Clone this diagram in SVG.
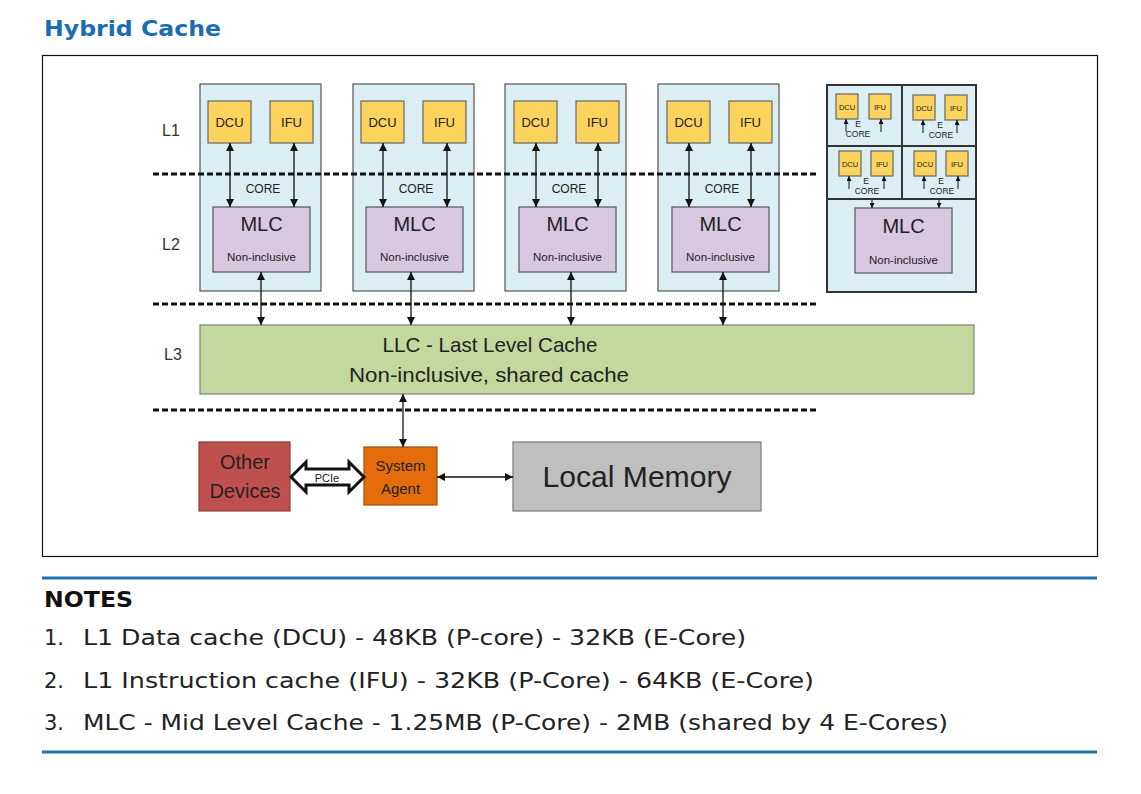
<svg xmlns="http://www.w3.org/2000/svg" width="1141" height="794" viewBox="0 0 1141 794">
<style>
.t{font-family:"Liberation Sans",Arial,sans-serif;fill:#222}
.v{font-family:"DejaVu Sans",Verdana,sans-serif}
.pc{fill:#dbeef4;stroke:#555;stroke-width:1.2}
.ec{fill:#dbeef4;stroke:#333;stroke-width:2}
.l1{fill:#fcd35c;stroke:#666;stroke-width:1.2}
.mlc{fill:#d8c8df;stroke:#555;stroke-width:1.2}
.dash{stroke:#111;stroke-width:3;stroke-dasharray:6 3;fill:none}
.ar{stroke:#111;stroke-width:1.3;fill:none;marker-start:url(#ah);marker-end:url(#ah)}
.sa{stroke:#111;stroke-width:1;fill:none;marker-end:url(#sh)}
.lbl{font-size:16px;fill:#333}
</style>
<defs>
<marker id="ah" viewBox="0 0 10 10" refX="10" refY="5" markerWidth="8" markerHeight="8" markerUnits="userSpaceOnUse" orient="auto-start-reverse"><path d="M0,0 L10,5 L0,10 z" fill="#111"/></marker>
<marker id="sh" viewBox="0 0 10 10" refX="10" refY="5" markerWidth="5" markerHeight="5" markerUnits="userSpaceOnUse" orient="auto"><path d="M0,0 L10,5 L0,10 z" fill="#111"/></marker>
</defs>
<rect width="1141" height="794" fill="#fff"/>
<text class="v" x="44" y="36" font-size="22" font-weight="bold" fill="#1b6db2" textLength="177" lengthAdjust="spacingAndGlyphs">Hybrid Cache</text>
<rect x="42.5" y="55.5" width="1055" height="501" fill="none" stroke="#111" stroke-width="1.2"/>

<g id="pcore1">
<rect class="pc" x="200" y="84" width="121" height="207"/>
<rect class="l1" x="208" y="101" width="43" height="42"/><text class="t" x="229.5" y="127" font-size="13" text-anchor="middle">DCU</text>
<rect class="l1" x="270" y="101" width="43" height="42"/><text class="t" x="291.5" y="127" font-size="13" text-anchor="middle">IFU</text>
<text class="t" x="263" y="193" font-size="12" text-anchor="middle" fill="#333">CORE</text>
<rect class="mlc" x="213" y="207" width="97" height="65"/>
<text class="t" x="261.5" y="231" font-size="20" text-anchor="middle">MLC</text>
<text class="t" x="261.5" y="261" font-size="11.5" text-anchor="middle">Non-inclusive</text>
</g>
<g id="pcore2">
<rect class="pc" x="353" y="84" width="121" height="207"/>
<rect class="l1" x="361" y="101" width="43" height="42"/><text class="t" x="382.5" y="127" font-size="13" text-anchor="middle">DCU</text>
<rect class="l1" x="423" y="101" width="43" height="42"/><text class="t" x="444.5" y="127" font-size="13" text-anchor="middle">IFU</text>
<text class="t" x="416" y="193" font-size="12" text-anchor="middle" fill="#333">CORE</text>
<rect class="mlc" x="366" y="207" width="97" height="65"/>
<text class="t" x="414.5" y="231" font-size="20" text-anchor="middle">MLC</text>
<text class="t" x="414.5" y="261" font-size="11.5" text-anchor="middle">Non-inclusive</text>
</g>
<g id="pcore3">
<rect class="pc" x="505" y="84" width="121" height="207"/>
<rect class="l1" x="514" y="101" width="43" height="42"/><text class="t" x="535.5" y="127" font-size="13" text-anchor="middle">DCU</text>
<rect class="l1" x="576" y="101" width="43" height="42"/><text class="t" x="597.5" y="127" font-size="13" text-anchor="middle">IFU</text>
<text class="t" x="569" y="193" font-size="12" text-anchor="middle" fill="#333">CORE</text>
<rect class="mlc" x="519" y="207" width="97" height="65"/>
<text class="t" x="567.5" y="231" font-size="20" text-anchor="middle">MLC</text>
<text class="t" x="567.5" y="261" font-size="11.5" text-anchor="middle">Non-inclusive</text>
</g>
<g id="pcore4">
<rect class="pc" x="658" y="84" width="121" height="207"/>
<rect class="l1" x="667" y="101" width="43" height="42"/><text class="t" x="688.5" y="127" font-size="13" text-anchor="middle">DCU</text>
<rect class="l1" x="729" y="101" width="43" height="42"/><text class="t" x="750.5" y="127" font-size="13" text-anchor="middle">IFU</text>
<text class="t" x="722" y="193" font-size="12" text-anchor="middle" fill="#333">CORE</text>
<rect class="mlc" x="672" y="207" width="97" height="65"/>
<text class="t" x="720.5" y="231" font-size="20" text-anchor="middle">MLC</text>
<text class="t" x="720.5" y="261" font-size="11.5" text-anchor="middle">Non-inclusive</text>
</g>

<g id="levels">
<text class="t lbl" x="162" y="136">L1</text>
<text class="t lbl" x="162" y="250">L2</text>
<text class="t lbl" x="164" y="360">L3</text>
<line class="dash" x1="153" y1="174" x2="817" y2="174"/>
<line class="dash" x1="153" y1="304" x2="817" y2="304"/>
<line class="dash" x1="153" y1="410" x2="817" y2="410"/>
</g>

<g id="ecluster">
<rect class="ec" x="827" y="85" width="149" height="207"/>
<line x1="902" y1="85" x2="902" y2="199" stroke="#333" stroke-width="2"/>
<line x1="827" y1="146" x2="976" y2="146" stroke="#333" stroke-width="2"/>
<line x1="827" y1="199" x2="976" y2="199" stroke="#333" stroke-width="2"/>
<g id="ecore1">
<rect class="l1" x="836" y="94" width="22" height="25"/><text class="t" x="847" y="110" font-size="7.5" text-anchor="middle">DCU</text>
<rect class="l1" x="869" y="94" width="22" height="25"/><text class="t" x="880" y="110" font-size="7.5" text-anchor="middle">IFU</text>
<text class="t" x="858" y="127" font-size="8.5" text-anchor="middle" fill="#333">E</text>
<text class="t" x="858" y="137" font-size="8.5" text-anchor="middle" fill="#333">CORE</text>
</g>
<g id="ecore2">
<rect class="l1" x="913" y="95" width="22" height="25"/><text class="t" x="924" y="111" font-size="7.5" text-anchor="middle">DCU</text>
<rect class="l1" x="945" y="95" width="22" height="25"/><text class="t" x="956" y="111" font-size="7.5" text-anchor="middle">IFU</text>
<text class="t" x="940" y="128" font-size="8.5" text-anchor="middle" fill="#333">E</text>
<text class="t" x="941" y="138" font-size="8.5" text-anchor="middle" fill="#333">CORE</text>
</g>
<g id="ecore3">
<rect class="l1" x="839" y="151" width="22" height="25"/><text class="t" x="850" y="167" font-size="7.5" text-anchor="middle">DCU</text>
<rect class="l1" x="871" y="151" width="22" height="25"/><text class="t" x="882" y="167" font-size="7.5" text-anchor="middle">IFU</text>
<text class="t" x="866" y="184" font-size="8.5" text-anchor="middle" fill="#333">E</text>
<text class="t" x="867" y="194" font-size="8.5" text-anchor="middle" fill="#333">CORE</text>
</g>
<g id="ecore4">
<rect class="l1" x="914" y="151" width="22" height="25"/><text class="t" x="925" y="167" font-size="7.5" text-anchor="middle">DCU</text>
<rect class="l1" x="946" y="151" width="22" height="25"/><text class="t" x="957" y="167" font-size="7.5" text-anchor="middle">IFU</text>
<text class="t" x="941" y="184" font-size="8.5" text-anchor="middle" fill="#333">E</text>
<text class="t" x="942" y="194" font-size="8.5" text-anchor="middle" fill="#333">CORE</text>
</g>
<g id="emlc">
<rect class="mlc" x="855" y="208" width="97" height="65"/>
<text class="t" x="903.5" y="233" font-size="20" text-anchor="middle">MLC</text>
<text class="t" x="903.5" y="264" font-size="11.5" text-anchor="middle">Non-inclusive</text>
</g>
</g>

<g id="llc">
<rect x="200" y="325" width="774" height="69" fill="#c4d79c" stroke="#7f7f7f" stroke-width="1.2"/>
<text class="t" x="490" y="352" font-size="21" text-anchor="middle" textLength="215" lengthAdjust="spacingAndGlyphs">LLC - Last Level Cache</text>
<text class="t" x="489" y="382" font-size="21" text-anchor="middle" textLength="280" lengthAdjust="spacingAndGlyphs">Non-inclusive, shared cache</text>
</g>

<g id="other">
<rect x="199" y="442" width="91" height="69" fill="#c0504d" stroke="#8a3a37" stroke-width="1.2"/>
<text class="t" x="245" y="469" font-size="20" text-anchor="middle" fill="#2a1414">Other</text>
<text class="t" x="245" y="498" font-size="20" text-anchor="middle" fill="#2a1414">Devices</text>
</g>
<g id="sysagent">
<rect x="364" y="447" width="73" height="58" fill="#e46c0a" stroke="#a34d08" stroke-width="1.2"/>
<text class="t" x="400.5" y="471" font-size="15" text-anchor="middle" fill="#3a1c04">System</text>
<text class="t" x="400.5" y="494" font-size="15" text-anchor="middle" fill="#3a1c04">Agent</text>
</g>
<g id="localmem">
<rect x="513" y="442" width="248" height="69" fill="#bfbfbf" stroke="#7a7a7a" stroke-width="1.2"/>
<text class="t" x="637" y="487" font-size="29" text-anchor="middle" textLength="189" lengthAdjust="spacingAndGlyphs">Local Memory</text>
</g>

<g id="connectors">
<line class="ar" x1="230" y1="143" x2="230" y2="207"/>
<line class="ar" x1="294" y1="143" x2="294" y2="207"/>
<line class="ar" x1="383" y1="143" x2="383" y2="207"/>
<line class="ar" x1="447" y1="143" x2="447" y2="207"/>
<line class="ar" x1="536" y1="143" x2="536" y2="207"/>
<line class="ar" x1="598" y1="143" x2="598" y2="207"/>
<line class="ar" x1="689" y1="143" x2="689" y2="207"/>
<line class="ar" x1="751" y1="143" x2="751" y2="207"/>
<line class="ar" x1="261" y1="272" x2="261" y2="325"/>
<line class="ar" x1="411" y1="272" x2="411" y2="325"/>
<line class="ar" x1="571" y1="272" x2="571" y2="325"/>
<line class="ar" x1="723" y1="272" x2="723" y2="325"/>
<line class="ar" x1="403" y1="394" x2="403" y2="447"/>
<line class="ar" x1="437" y1="477" x2="513" y2="477"/>
<line class="sa" x1="846" y1="132" x2="846" y2="119"/>
<line class="sa" x1="881" y1="132" x2="881" y2="119"/>
<line class="sa" x1="923" y1="133" x2="923" y2="120"/>
<line class="sa" x1="957" y1="133" x2="957" y2="120"/>
<line class="sa" x1="849" y1="189" x2="849" y2="176"/>
<line class="sa" x1="884" y1="189" x2="884" y2="176"/>
<line class="sa" x1="924" y1="189" x2="924" y2="176"/>
<line class="sa" x1="958" y1="189" x2="958" y2="176"/>
<line class="sa" x1="872" y1="200" x2="872" y2="208"/>
<line class="sa" x1="939" y1="200" x2="939" y2="208"/>
<polygon points="291,477 306,462 306,469 349,469 349,462 364,477 349,492 349,485 306,485 306,492" fill="#fff" stroke="#111" stroke-width="3"/>
<text class="t" x="327" y="482" font-size="11" text-anchor="middle" fill="#333">PCIe</text>
</g>

<g id="notes">
<line x1="42" y1="578" x2="1097" y2="578" stroke="#2471ad" stroke-width="3"/>
<text class="v" x="44" y="607" font-size="21" font-weight="bold" fill="#111" textLength="89" lengthAdjust="spacingAndGlyphs">NOTES</text>
<text class="v" x="44" y="645" font-size="21" fill="#222">1.</text>
<text class="v" x="83" y="645" font-size="21" fill="#222" textLength="663" lengthAdjust="spacingAndGlyphs">L1 Data cache (DCU) - 48KB (P-core) - 32KB (E-Core)</text>
<text class="v" x="44" y="688" font-size="21" fill="#222">2.</text>
<text class="v" x="83" y="688" font-size="21" fill="#222" textLength="731" lengthAdjust="spacingAndGlyphs">L1 Instruction cache (IFU) - 32KB (P-Core) - 64KB (E-Core)</text>
<text class="v" x="44" y="730" font-size="21" fill="#222">3.</text>
<text class="v" x="83" y="730" font-size="21" fill="#222" textLength="865" lengthAdjust="spacingAndGlyphs">MLC - Mid Level Cache - 1.25MB (P-Core) - 2MB (shared by 4 E-Cores)</text>
<line x1="42" y1="752" x2="1097" y2="752" stroke="#2471ad" stroke-width="3"/>
</g>
</svg>
